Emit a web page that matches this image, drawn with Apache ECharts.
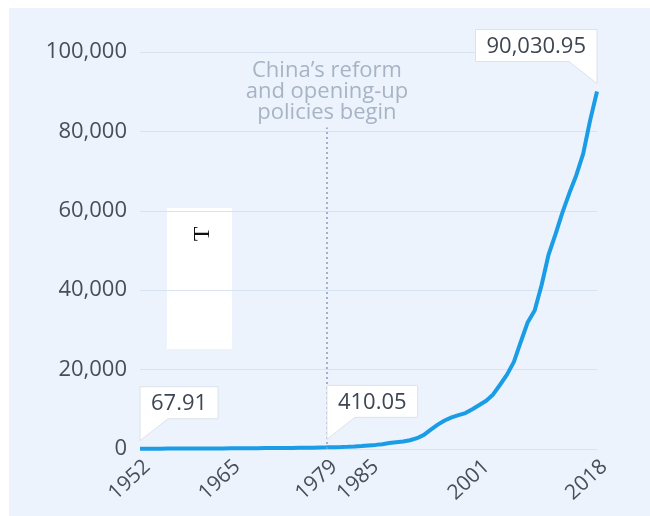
<!DOCTYPE html>
<html>
<head>
<meta charset="utf-8">
<script src="https://cdn.jsdelivr.net/npm/echarts@6/dist/echarts.min.js"></script>
<style>
  html, body { margin: 0; padding: 0; background: #fff; }
  #panel { position: absolute; left: 9px; top: 8px; width: 641px; height: 508px; background: #ecf3fc; }
  #chart { position: absolute; left: 0; top: 0; width: 650px; height: 516px; }
</style>
</head>
<body>
<div id="panel"></div>
<div id="chart"></div>
<script>
// China GDP, billion yuan
const years = [];
for (let y = 1952; y <= 2018; y++) years.push(String(y));

const gdp = [
  67.91, 82.44, 85.98, 91.16, 103.07, 107.14, 131.23, 144.75, 147.01, 123.23,
  116.22, 124.83, 146.99, 173.40, 188.87, 179.42, 174.41, 196.22, 227.97, 245.69,
  255.24, 275.62, 282.77, 303.95, 298.86, 325.00, 367.87, 410.05, 458.76, 493.58,
  537.34, 602.09, 727.85, 909.89, 1037.62, 1217.46, 1518.04, 1717.97, 1887.29, 2200.56,
  2719.45, 3567.32, 4863.75, 6133.99, 7181.36, 7971.50, 8519.55, 9056.44, 10028.01, 11086.31,
  12171.74, 13742.20, 16184.02, 18731.89, 21943.85, 27023.23, 31951.55, 34908.14, 41303.03, 48930.06,
  54036.74, 59524.44, 64397.40, 68905.21, 74358.55, 82712.17, 90030.95
];

const shownYears = ['1952', '1965', '1979', '1985', '2001', '2018'];
const callouts = [['1952', 67.91, 'left'], ['1979', 410.05, 'left'], ['2018', 90030.95, 'right']];
const yTicks = [0, 20000, 40000, 60000, 80000, 100000];

const font = '"Open Sans", "Noto Sans", sans-serif';
const ctx = document.createElement('canvas').getContext('2d');
ctx.font = '22px ' + font;

function fmt(v) {
  return v.toLocaleString('en-US', { maximumFractionDigits: 2, minimumFractionDigits: v % 1 ? 2 : 0 });
}

const chart = echarts.init(document.getElementById('chart'));

chart.setOption({
  animation: false,
  grid: { left: 140, right: 53, top: 52, bottom: 67 },
  xAxis: {
    type: 'category',
    data: years,
    boundaryGap: false,
    axisLine: { show: false },
    axisTick: { show: false },
    axisLabel: {
      interval: (i, v) => shownYears.includes(v),
      rotate: 43,
      margin: 7,
      verticalAlign: 'top',
      color: '#474e59',
      fontFamily: font,
      fontSize: 21
    }
  },
  yAxis: {
    type: 'value',
    min: yTicks[0],
    max: yTicks[yTicks.length - 1],
    interval: 20000,
    axisLine: { show: false },
    axisTick: { show: false },
    axisLabel: {
      margin: 13,
      color: '#474e59',
      fontFamily: font,
      fontSize: 22,
      formatter: v => v.toLocaleString('en-US')
    },
    splitLine: { lineStyle: { color: '#d7e3f1', width: 1 } }
  },
  graphic: [
    { type: 'rect', shape: { x: 167, y: 208, width: 65, height: 141 }, style: { fill: '#ffffff' } },
    {
      type: 'text', x: 203, y: 234, rotation: Math.PI / 2,
      style: { text: 'T', font: '24px "Liberation Serif", serif', fill: '#111', align: 'center', verticalAlign: 'middle' }
    }
  ],
  series: [
    {
      type: 'line',
      data: gdp,
      showSymbol: false,
      symbol: 'none',
      lineStyle: { color: '#1a9de6', width: 4 },
      z: 3,
      markLine: {
        silent: true,
        symbol: 'none',
        lineStyle: { color: '#8a9db5', width: 1.5, type: [2, 3] },
        label: {
          show: true,
          position: 'end',
          distance: 4,
          formatter: 'China’s reform\nand opening-up\npolicies begin',
          color: '#a7b4c5',
          fontFamily: font,
          fontSize: 22,
          lineHeight: 21
        },
        data: [[{ coord: ['1979', 0] }, { coord: ['1979', 81000] }]]
      }
    },
    {
      type: 'custom',
      z: 5,
      data: callouts.map(c => [c[0], c[1]]),
      renderItem: (params, api) => {
        const c = callouts[params.dataIndex];
        const pt = api.coord([api.value(0), api.value(1)]);
        const txt = fmt(c[1]);
        const w = ctx.measureText(txt).width + 22;
        const tip = pt[1] - 8;
        const bottom = tip - 22;
        const top = bottom - 32;
        const x = pt[0];
        const pts = c[2] === 'left'
          ? [[x, top], [x + w, top], [x + w, bottom], [x + 28, bottom], [x, tip]]
          : [[x, top], [x, tip], [x - 28, bottom], [x - w, bottom], [x - w, top]];
        const cx = c[2] === 'left' ? x + w / 2 : x - w / 2;
        return {
          type: 'group',
          children: [
            { type: 'polygon', shape: { points: pts }, style: { fill: '#ffffff', stroke: '#dbe2ea', lineWidth: 1 } },
            {
              type: 'text', x: cx, y: (top + bottom) / 2 + 1,
              style: { text: txt, fill: '#3d4551', font: '22px ' + font, align: 'center', verticalAlign: 'middle' }
            }
          ]
        };
      }
    }
  ]
});
</script>
</body>
</html>
